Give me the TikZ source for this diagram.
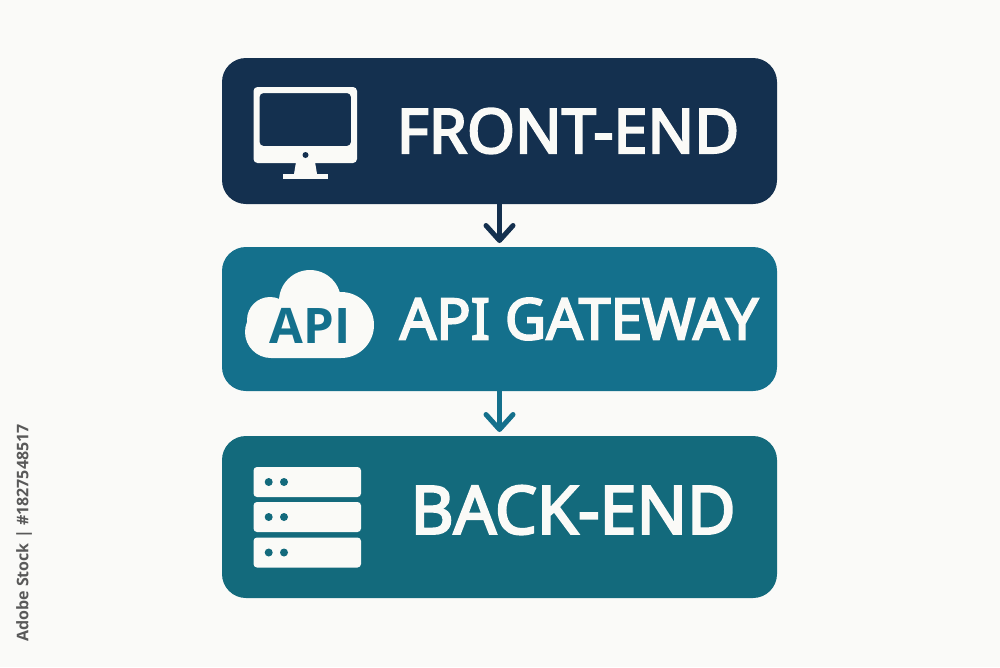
\documentclass[tikz,border=0pt]{standalone}
\usepackage{fontspec}
\setmainfont{Open Sans}
\newfontfamily\semifont[FakeBold=3.5]{Noto Sans}
\usetikzlibrary{arrows.meta}
\definecolor{bgc}{HTML}{FAFAF8}
\definecolor{navy}{HTML}{14304F}
\definecolor{tealA}{HTML}{14708C}
\definecolor{tealB}{HTML}{136A7C}
\definecolor{iconc}{HTML}{FAFAF7}
\tikzset{
  x=1pt,y=-1pt,
  panel/.style={rounded corners=24pt,minimum width=555pt,inner sep=0pt,outer sep=0pt,anchor=north west},
  title/.style={text=iconc,inner sep=0pt,anchor=center},
  flow/.style={line width=5pt,-{Straight Barb[length=15pt,width=27pt,line width=5pt,round]},shorten >=4pt},
  icon/.style={fill=iconc,draw=none},
}
\begin{document}
\begin{tikzpicture}
\useasboundingbox (0,0) rectangle (1000,667);
\fill[bgc] (0,0) rectangle (1000,667);
\node[panel,fill=navy,minimum height=146pt] (front) at (222,58) {};
\node[panel,fill=tealA,minimum height=144pt] (api) at (222,247) {};
\node[panel,fill=tealB,minimum height=162pt] (back) at (222,436) {};
\draw[flow,navy] (front.south) -- (api.north);
\draw[flow,tealA] (api.south) -- (back.north);
% monitor
\fill[icon,rounded corners=4pt,even odd rule] (253.5,87) rectangle (357,163) (259.5,93) rectangle (351,146);
\fill[navy] (305.5,155) circle (3pt);
\fill[icon] (296,162) -- (315,162) -- (317,174) -- (294,174) -- cycle;
\fill[icon] (283,173.5) rectangle (328,179);
% cloud
\fill[icon] (310,301) circle (31pt) (341,325) circle (33pt) (271,332) circle (26pt) (270,320) circle (23pt) (271,315) rectangle (341,358);
\node[inner sep=0pt,text=tealA,font=\fontsize{49}{49}\selectfont\bfseries] (apilabel) at (310,326) {API};
% servers
\foreach \t in {467,502,537.5}{
  \fill[icon,rounded corners=3.5pt] (253.5,\t) rectangle (361,\t+30);
  \fill[tealB] (268.7,\t+15) circle (4pt) (284,\t+15) circle (4pt);
}
\node[title,font=\semifont\fontsize{61.5}{62}\selectfont] (t1) at (568,131) {FRONT-END};
\node[title,font=\semifont\fontsize{57}{58}\selectfont] (t2) at (579,319) {API GATEWAY};
\node[title,font=\semifont\fontsize{66.5}{67}\selectfont] (t3) at (573,510) {BACK-END};
\node[rotate=90,inner sep=0pt,text=black!65,font=\fontsize{16}{16}\selectfont\bfseries] (side) at (24,533) {Adobe Stock | \#1827548517};
\end{tikzpicture}
\end{document}
